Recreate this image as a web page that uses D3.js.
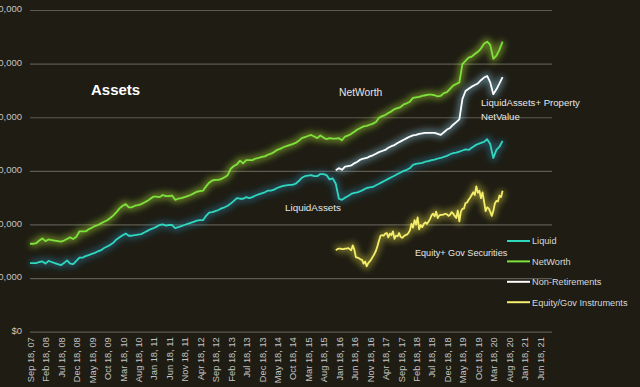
<!DOCTYPE html>
<html><head><meta charset="utf-8">
<script src="https://cdn.jsdelivr.net/npm/d3@7"></script>
<style>
html,body{margin:0;padding:0;background:#1e1c13;}
svg{display:block;}
</style></head><body>
<svg id="chart" width="640" height="387"></svg>
<script>
// ---- data (values in thousands of dollars) ----
const tickLabels = ["Sep 18, 07","Feb 18, 08","Jul 18, 08","Dec 18, 08","May 18, 09","Oct 18, 09","Mar 18, 10","Aug 18, 10","Jan 18, 11","Jun 18, 11","Nov 18, 11","Apr 18, 12","Sep 18, 12","Feb 18, 13","Jul 18, 13","Dec 18, 13","May 18, 14","Oct 18, 14","Mar 18, 15","Aug 18, 15","Jan 18, 16","Jun 18, 16","Nov 18, 16","Apr 18, 17","Sep 18, 17","Feb 18, 18","Jul 18, 18","Dec 18, 18","May 18, 19","Oct 18, 19","Mar 18, 20","Aug 18, 20","Jan 18, 21","Jun 18, 21"];
const yTickValues = [0,100,200,300,400,500,600];

// monthly, starting Sep 2007 (month index 0)
const liquidStart = 0;
const liquid = [128,128,128,130,131,127,132,130,128,126,
124,128,133,127,126,132,138,138,141,143,
145,147,150,152,156,159,162,166,172,176,
180,183,179,179,180,181,182,185,188,191,
193,196,199,200,198,199,199,193,195,197,
199,201,203,205,207,208,208,216,222,223,
225,227,230,232,235,239,244,249,248,248,
251,249,251,254,256,258,260,263,263,265,
268,270,272,273,274,274,276,281,287,290,
291,292,290,290,294,294,292,284,286,276,
248,246,250,253,257,259,260,262,265,268,
269,270,273,276,279,282,285,288,291,294,
297,300,302,305,311,313,314,315,317,318,
320,321,323,324,326,328,331,333,334,336,
338,340,339,343,347,350,352,354,359,350,
324,339,345,356];

const netWorthStart = 0;
const netWorth = [164,164,165,170,174,169,172,171,170,169,
168,170,173,176,173,177,187,187,187,191,
194,197,199,202,205,208,212,217,223,230,
235,238,232,232,235,236,238,241,244,248,
252,252,251,255,253,253,254,246,248,249,
251,253,255,258,261,262,263,271,278,282,
283,283,285,288,292,304,309,312,319,314,
320,320,320,323,324,326,327,330,332,335,
339,341,344,346,348,350,352,356,361,363,
365,367,364,361,366,362,359,361,360,360,
361,357,364,366,369,373,377,380,383,384,
386,388,391,399,402,404,408,411,415,417,
419,424,426,429,436,437,438,440,441,442,
442,441,439,440,445,447,453,459,462,465,
499,505,511,513,518,522,528,537,541,535,
509,515,526,541];

const nonRetStart = 99;
const nonRetirements = [301,305,302,308,309,310,314,317,321,323,
324,327,329,332,335,337,339,343,346,348,
352,355,358,361,364,366,367,369,370,371,
371,371,371,369,367,372,377,380,386,391,
396,434,449,453,457,460,463,469,474,477,
465,443,452,463,475];

// half-monthly, starting Dec 2015 (month index 99)
const equityStart = 99;
const equityStep = 0.5;
const equity = [152,154,155,155,154,154,155,155,156,154,
152,161,153,139,138,137,135,134,127,131,
122,128,131,135,140,145,151,160,170,179,
180,179,183,184,176,183,180,187,173,179,
178,184,177,175,178,180,181,184,189,201,
194,208,200,213,191,199,195,201,204,201,
205,210,217,220,215,224,212,217,218,218,
219,220,219,216,218,223,220,216,212,226,
206,224,229,230,240,241,246,250,255,260,
255,271,259,263,249,260,243,225,232,230,
224,216,225,239,244,243,254,251,263];

const seriesNames = ["Liquid","NetWorth","Non-Retirements","Equity/Gov Instruments"];
const seriesColors = ["#2fd8bd","#7ee23c","#ffffff","#f4ee6c"];
const glowColors = ["#2a86b0","#b8f03a","#8fd0f0","#d8d040"];

// ---- drawing ----
const svg = d3.select("#chart");
const font = "'Liberation Sans', Arial, sans-serif";
svg.append("rect").attr("width",640).attr("height",387).attr("fill","#1e1c13");

const x = d3.scaleLinear().domain([0,169]).range([30,552]);
const y = d3.scaleLinear().domain([0,600]).range([331.7,10]);

const defs = svg.append("defs");
const f = defs.append("filter").attr("id","blur").attr("x","-20%").attr("y","-20%").attr("width","140%").attr("height","140%");
f.append("feGaussianBlur").attr("stdDeviation",3.2);

// y axis with gridlines
const yAxis = svg.append("g").attr("transform","translate(30,0)")
  .call(d3.axisLeft(y).tickValues(yTickValues).tickSizeInner(-522).tickSizeOuter(0).tickPadding(8)
    .tickFormat(d => "$" + d3.format(",")(d*1000)));
yAxis.select(".domain").remove();
yAxis.selectAll(".tick line").attr("stroke","#5d5a50").attr("stroke-width",1.2);
yAxis.selectAll(".tick text").attr("fill","#c4c4c4").attr("font-size","9.5px").attr("font-family",font).attr("dy","0.2em");

// x axis
const xAxis = svg.append("g").attr("transform","translate(0,331.7)")
  .call(d3.axisBottom(x).tickValues(d3.range(0,166,5)).tickSize(0).tickFormat((d,i)=>tickLabels[i]));
xAxis.select(".domain").remove();
xAxis.selectAll(".tick text")
  .attr("transform","rotate(-90)").attr("x",-5.5).attr("y",0).attr("dy","0.36em")
  .style("text-anchor","end").attr("fill","#c4c4c4").attr("font-size","9.3px").attr("font-family",font);

// series
const series = [
  {vals: netWorth, start: netWorthStart, step: 1, c: 1},
  {vals: nonRetirements, start: nonRetStart, step: 1, c: 2},
  {vals: liquid, start: liquidStart, step: 1, c: 0},
  {vals: equity, start: equityStart, step: equityStep, c: 3}
];
series.forEach(s => {
  const line = d3.line().x((d,i)=>x(s.start + i*s.step)).y(d=>y(d));
  svg.append("path").datum(s.vals).attr("d",line).attr("fill","none")
    .attr("stroke",glowColors[s.c]).attr("stroke-width",7).attr("stroke-opacity",0.45)
    .attr("stroke-linejoin","round").attr("filter","url(#blur)");
});
series.forEach(s => {
  const line = d3.line().x((d,i)=>x(s.start + i*s.step)).y(d=>y(d));
  svg.append("path").datum(s.vals).attr("d",line).attr("fill","none")
    .attr("stroke",seriesColors[s.c]).attr("stroke-width",1.8).attr("stroke-linejoin","round");
});

// annotations
svg.append("text").attr("x",91).attr("y",95).text("Assets")
  .attr("fill","#ffffff").attr("font-weight","bold").attr("font-size","15px").attr("font-family",font);
const notes = [
  {t:"NetWorth", x:339, y:96, s:10.3},
  {t:"LiquidAssets+ Property", x:481, y:106, s:9.6},
  {t:"NetValue", x:481, y:119.5, s:9.6},
  {t:"LiquidAssets", x:285, y:210.5, s:9.9},
  {t:"Equity+ Gov Securities", x:415, y:256, s:9.1}
];
notes.forEach(n => svg.append("text").attr("x",n.x).attr("y",n.y).text(n.t)
  .attr("fill","#e6e6e6").attr("font-size",n.s+"px").attr("font-family",font));

// legend
const lg = svg.append("g");
seriesNames.forEach((name,i) => {
  const yy = 241 + i*20.4;
  lg.append("line").attr("x1",507).attr("x2",530).attr("y1",yy).attr("y2",yy)
    .attr("stroke",seriesColors[i]).attr("stroke-width",2);
  lg.append("text").attr("x",532).attr("y",yy+3.3).text(name)
    .attr("fill","#d8d8d8").attr("font-size","9.2px").attr("font-family",font);
});
</script>
</body></html>
